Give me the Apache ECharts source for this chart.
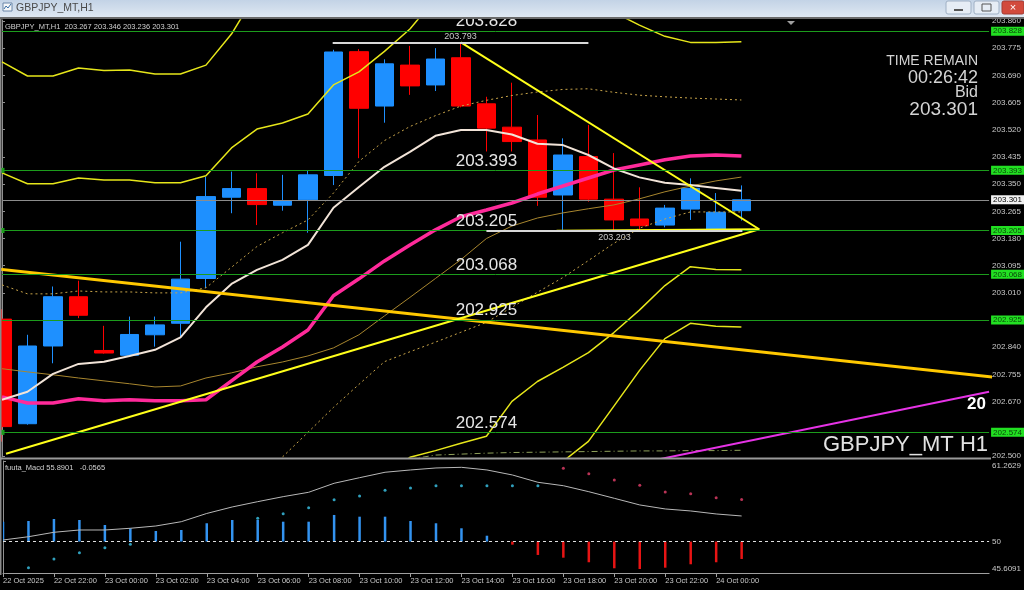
<!DOCTYPE html>
<html><head><meta charset="utf-8">
<script src="https://cdn.jsdelivr.net/npm/echarts@6/dist/echarts.min.js"></script>
<style>html,body{margin:0;padding:0;background:#000;overflow:hidden}#c{width:1024px;height:590px}</style>
</head><body><div id="c"></div>
<script>
// ---------------- data ----------------
const symbolName = "GBPJPY_MT,H1";
const times = ["22 Oct 20:00","22 Oct 21:00","22 Oct 22:00","22 Oct 23:00","23 Oct 00:00","23 Oct 01:00","23 Oct 02:00","23 Oct 03:00","23 Oct 04:00","23 Oct 05:00","23 Oct 06:00","23 Oct 07:00","23 Oct 08:00","23 Oct 09:00","23 Oct 10:00","23 Oct 11:00","23 Oct 12:00","23 Oct 13:00","23 Oct 14:00","23 Oct 15:00","23 Oct 16:00","23 Oct 17:00","23 Oct 18:00","23 Oct 19:00","23 Oct 20:00","23 Oct 21:00","23 Oct 22:00","23 Oct 23:00","24 Oct 00:00","24 Oct 01:00"];
const open  = [202.928,202.601,202.844,202.998,202.830,202.815,202.879,202.915,203.055,203.309,203.336,203.284,203.301,203.377,203.764,203.594,203.722,203.660,203.745,203.601,203.528,203.488,203.316,203.436,203.303,203.241,203.222,203.272,203.209,203.267];
const close = [202.592,202.844,202.998,202.940,202.822,202.880,202.910,203.053,203.311,203.336,203.286,203.298,203.379,203.763,203.587,203.726,203.657,203.741,203.594,203.525,203.483,203.309,203.441,203.303,203.238,203.220,203.275,203.337,203.262,203.301];
const low   = [202.545,202.598,202.790,202.931,202.820,202.812,202.842,202.873,203.025,203.259,203.222,203.267,203.198,203.347,203.431,203.542,203.629,203.641,203.590,203.452,203.452,203.282,203.207,203.295,203.203,203.205,203.215,203.238,203.205,203.236];
const high  = [202.959,202.879,203.030,203.048,202.907,202.936,202.936,203.170,203.373,203.389,203.384,203.379,203.394,203.770,203.772,203.740,203.782,203.775,203.793,203.623,203.667,203.566,203.493,203.535,203.447,203.340,203.285,203.368,203.322,203.346];

const bbUpper3 = [203.732,203.688,203.688,203.713,203.705,203.707,203.694,203.694,203.722,203.819,203.950,null,null,null,null,null,null,null,null,null,null,null,null,null,null,null,null,null,null,null];
const bbUpper2 = [203.385,203.351,203.351,203.369,203.363,203.363,203.354,203.354,203.376,203.463,203.522,203.541,203.569,203.660,203.701,203.765,203.835,203.930,null,null,null,null,null,null,203.887,203.847,203.812,203.793,203.793,203.795];
const bbUpper1 = [203.035,203.007,203.007,203.016,203.013,203.013,203.010,203.010,203.026,203.090,203.155,203.198,203.238,203.322,203.421,203.486,203.530,203.564,203.594,203.612,203.627,203.638,203.646,203.648,203.637,203.628,203.623,203.619,203.616,203.613];
const bbMiddle = [202.685,202.666,202.666,202.679,202.673,202.676,202.673,202.673,202.676,202.735,202.794,202.841,202.894,203.001,203.054,203.110,203.160,203.207,203.248,203.269,203.291,203.319,203.344,203.369,203.394,203.410,203.426,203.438,203.441,203.438];
const bbLower1 = [null,null,null,null,null,null,null,null,null,null,202.448,202.497,202.574,202.652,202.724,202.795,202.826,202.856,202.887,202.918,202.965,203.012,203.058,203.111,203.165,203.212,203.241,203.263,203.263,203.263];
const bbLower2 = [null,null,null,null,null,null,null,null,null,null,null,null,null,null,null,202.440,202.496,202.517,202.540,202.562,202.671,202.733,202.777,202.823,202.886,202.956,203.033,203.092,203.083,203.082];
const bbLower3 = [null,null,null,null,null,null,null,null,null,null,null,null,null,null,null,null,null,null,null,null,null,202.420,202.483,202.546,202.656,202.767,202.867,202.915,202.906,202.903];
const fastMA   = [202.676,202.701,202.757,202.788,202.795,202.813,202.832,202.871,202.965,203.038,203.082,203.113,203.160,203.276,203.341,203.404,203.451,203.501,203.519,203.519,203.505,203.476,203.472,203.441,203.399,203.371,203.354,203.347,203.338,203.329];
const slowMA   = [202.773,202.763,202.754,202.744,202.735,202.726,202.716,202.719,202.744,202.760,202.779,202.794,202.813,202.838,202.879,202.938,202.996,203.055,203.114,203.180,203.219,203.244,203.260,203.273,203.285,203.304,203.326,203.344,203.360,203.372];
const longMA   = [null,null,null,null,null,null,null,null,null,null,null,null,null,null,null,null,202.490,202.503,202.506,202.509,202.511,202.512,202.513,202.514,202.515,202.516,202.516,202.517,202.517,202.518];

const levels = [203.828,203.393,203.205,203.068,202.925,202.574];
const anchoredLevels = [203.393,203.205,202.574];
const bid = 203.301;
const priceTicks = [203.860,203.775,203.690,203.605,203.520,203.435,203.350,203.265,203.180,203.095,203.010,202.925,202.840,202.755,202.670,202.500];

const goldTrend     = [[-1,203.092],[40,202.737]];
const triangleRise  = [[0.157,202.507],[29.70,203.209]];
const triangleFall  = [[18,203.793],[29.70,203.209]];
const triangleBase  = [[21.75,203.204],[29.70,203.209]];
const channelUpper  = [[0,203.453],[27,203.896]];
const channelLower  = [[0,202.765],[38.715,203.389]];
const channelBottom = [[25.78,202.490],[38.715,202.701]];
const highMark = {value:203.793, from:12.97, to:23.0};
const lowMark  = {value:203.203, from:19.0, to:29.04};

const macdHist   = [52.78,52.88,53.16,53.02,52.32,51.86,51.48,51.62,52.56,53.02,53.02,52.78,52.78,53.72,53.48,53.48,52.88,52.56,51.86,50.82,49.57,48.13,47.75,47.11,46.27,46.17,46.35,46.83,47.11,47.57];
const macdSignal = [50.22,50.68,51.30,51.62,51.62,51.86,52.18,52.78,53.93,54.84,55.58,56.28,56.89,58.15,58.93,59.69,60.01,60.29,60.38,60.01,59.31,58.29,57.81,56.97,56.05,55.12,54.56,54.28,53.86,53.58];
const macdDotsUp   = [null,46.35,47.57,48.45,49.15,49.62,null,null,null,null,53.26,53.90,54.74,55.86,56.37,57.17,57.49,57.81,57.81,57.81,57.81,57.81,null,null,null,null,null,null,null,null];
const macdDotsDown = [null,null,null,null,null,null,null,null,null,null,null,null,null,null,null,null,null,null,null,null,null,null,60.24,59.49,58.61,57.87,56.93,56.69,56.14,55.89];
const macdTicks = [61.2629,50,45.6091];
const macdTickText = ["61.2629","50","45.6091"];
const macdName = "fuuta_Macd 55.8901   -0.0565";

const timeTickIdx = [0,2,4,6,8,10,12,14,16,18,20,22,24,26,28];
const timeTickLabels = ["22 Oct 2025","22 Oct 22:00","23 Oct 00:00","23 Oct 02:00","23 Oct 04:00","23 Oct 06:00","23 Oct 08:00","23 Oct 10:00","23 Oct 12:00","23 Oct 14:00","23 Oct 16:00","23 Oct 18:00","23 Oct 20:00","23 Oct 22:00","24 Oct 00:00"];

// ---------------- chart ----------------
const FONT = '"Liberation Sans", Arial, sans-serif';
const pairs = arr => arr.map((v, i) => [i, v]);
const XMAX = 38.715;
const last = times.length - 1;

const lineSeries = (data, color, width, type, extra) => Object.assign({
  type: 'line', xAxisIndex: 0, yAxisIndex: 0, data: data, showSymbol: false, symbol: 'none',
  silent: true, animation: false, clip: true,
  lineStyle: {color: color, width: width, type: type || 'solid'}
}, extra || {});

const chart = echarts.init(document.getElementById('c'), null, {renderer: 'canvas', width: 1024, height: 590});

const option = {
  backgroundColor: '#000',
  animation: false,
  grid: [
    {left: 2, right: 34, top: 20, height: 437},
    {left: 2, right: 34, top: 461, height: 112}
  ],
  xAxis: [
    {type: 'value', gridIndex: 0, min: 0, max: XMAX, show: false},
    {type: 'value', gridIndex: 1, min: 0, max: XMAX,
     axisLine: {show: true, lineStyle: {color: '#a0a0a0', width: 1}},
     axisTick: {show: true, customValues: timeTickIdx, length: 4, lineStyle: {color: '#a0a0a0'}},
     axisLabel: {customValues: timeTickIdx, align: 'left', margin: 4, color: '#c8c8c8', fontSize: 7.5, fontFamily: FONT,
       formatter: v => timeTickLabels[timeTickIdx.indexOf(Math.round(v))] || ''},
     splitLine: {show: false}}
  ],
  yAxis: [
    {type: 'value', gridIndex: 0, min: 202.497, max: 203.863, position: 'right', scale: true,
     axisLine: {show: true, lineStyle: {color: '#909090'}},
     axisTick: {show: true, customValues: priceTicks, length: 3, lineStyle: {color: '#909090'}},
     axisLabel: {customValues: priceTicks, margin: 3, color: '#c8c8c8', fontSize: 8, fontFamily: FONT,
       formatter: v => v.toFixed(3)},
     splitLine: {show: false}},
    {type: 'value', gridIndex: 1, min: 45.6091, max: 61.2629, position: 'right', scale: true,
     axisLine: {show: true, lineStyle: {color: '#909090'}},
     axisTick: {show: true, customValues: macdTicks, length: 3, lineStyle: {color: '#909090'}},
     axisLabel: {customValues: macdTicks, margin: 3, color: '#c8c8c8', fontSize: 8, fontFamily: FONT,
       formatter: v => {
         let k = 0, d = 1e9;
         macdTicks.forEach((t, i) => { if (Math.abs(t - v) < d) { d = Math.abs(t - v); k = i; } });
         if (k === 0) return '{t|' + macdTickText[k] + '}';
         if (k === macdTickText.length - 1) return '{b|' + macdTickText[k] + '}';
         return macdTickText[k];
       },
       rich: {t: {padding: [10, 0, 0, 0], fontSize: 8, color: '#c8c8c8', fontFamily: FONT},
              b: {padding: [0, 0, 8, 0], fontSize: 8, color: '#c8c8c8', fontFamily: FONT}}},
     splitLine: {show: false}}
  ],
  series: [
    {type: 'candlestick', xAxisIndex: 0, yAxisIndex: 0, barWidth: 19, silent: true, clip: true,
     data: times.map((t, i) => [i, open[i], close[i], low[i], high[i]]),
     encode: {x: 0, y: [1, 2, 3, 4]},
     itemStyle: {color: '#1e90ff', color0: '#ff0000', borderColor: '#1e90ff', borderColor0: '#ff0000', borderWidth: 1}},

    // Bollinger-style envelope and moving averages
    lineSeries(pairs(bbUpper3), '#e6e61a', 1.5),
    lineSeries(pairs(bbUpper2), '#e6e61a', 1.5),
    lineSeries(pairs(bbUpper1), '#c9a54a', 1, [2, 3]),
    lineSeries(pairs(bbLower1), '#c9a54a', 1, [2, 3]),
    lineSeries(pairs(bbLower2), '#e6e61a', 1.5),
    lineSeries(pairs(bbLower3), '#e6e61a', 1.5),
    lineSeries(pairs(longMA), '#8fa05a', 1, [6, 3, 1, 3]),
    lineSeries(pairs(slowMA), '#a8862e', 1),
    lineSeries(pairs(channelLower), '#c020c0', 1),
    lineSeries(pairs(channelUpper), '#c020c0', 1),
    lineSeries(pairs(bbMiddle), '#ff2a9a', 3.5),
    lineSeries(pairs(fastMA), '#f2e4d8', 2),

    // trend lines
    lineSeries(goldTrend, '#ffc800', 3),
    lineSeries(channelBottom, '#e633e6', 2),
    lineSeries(triangleRise, '#ffff1a', 2),
    lineSeries(triangleFall, '#ffff1a', 2),

    // horizontal levels (green) + right axis boxes
    {type: 'line', xAxisIndex: 0, yAxisIndex: 0, data: [], silent: true,
     markLine: {symbol: 'none', silent: true, animation: false, precision: 4,
       lineStyle: {color: '#1c9c1c', width: 1, type: 'solid'},
       label: {show: true, position: 'end', distance: 2,
         backgroundColor: '#22e022', color: '#0a3f0a', fontSize: 8, fontFamily: FONT, padding: [1, 2, 0, 2]},
       data: levels.map(v => anchoredLevels.indexOf(v) >= 0
         ? {yAxis: v, symbol: ['rect', 'rect'], symbolSize: 5, label: {formatter: v.toFixed(3)}}
         : {yAxis: v, label: {formatter: v.toFixed(3)}})}},
    // big level captions
    {type: 'line', xAxisIndex: 0, yAxisIndex: 0, data: [], silent: true,
     markLine: {symbol: 'none', silent: true, animation: false, precision: 4,
       lineStyle: {color: 'rgba(0,0,0,0)', width: 1},
       label: {show: true, position: 'insideMiddleTop', distance: 1,
         color: '#e6e6e6', fontSize: 17, fontFamily: FONT},
       data: levels.map(v => [{coord: [0, v], label: {formatter: v.toFixed(3)}}, {coord: [38.0, v]}])}},
    // bid line
    {type: 'line', xAxisIndex: 0, yAxisIndex: 0, data: [], silent: true,
     markLine: {symbol: 'none', silent: true, animation: false, precision: 4,
       lineStyle: {color: '#8c8c8c', width: 1, type: 'solid'},
       label: {show: true, position: 'end', distance: 2, formatter: bid.toFixed(3),
         backgroundColor: '#f2f2f2', color: '#000', fontSize: 8, fontFamily: FONT, padding: [1, 2, 0, 2]},
       data: [{yAxis: bid}]}},
    // high / low marks
    {type: 'line', xAxisIndex: 0, yAxisIndex: 0, data: [], silent: true,
     markLine: {symbol: 'none', silent: true, animation: false, precision: 4,
       lineStyle: {color: '#d8d8d8', width: 2, type: 'solid'},
       label: {show: true, distance: 1, color: '#c8c8c8', fontSize: 9, fontFamily: FONT},
       data: [
         [{coord: [highMark.from, highMark.value], label: {position: 'insideMiddleTop', formatter: highMark.value.toFixed(3)}}, {coord: [highMark.to, highMark.value]}],
         [{coord: [lowMark.from, lowMark.value], label: {position: 'insideMiddleBottom', distance: 2, formatter: lowMark.value.toFixed(3)}}, {coord: [lowMark.to, lowMark.value]}]
       ]}},
    lineSeries(triangleBase, '#ffff1a', 2),

    // MACD panel
    {type: 'custom', xAxisIndex: 1, yAxisIndex: 1, silent: true, clip: true,
     data: pairs(macdHist),
     renderItem: (params, api) => {
       const x = api.value(0), v = api.value(1);
       const p1 = api.coord([x, 50]), p2 = api.coord([x, v]);
       return {type: 'line', shape: {x1: p1[0], y1: p1[1], x2: p2[0], y2: p2[1]},
         style: {stroke: v >= 50 ? '#3393f0' : '#e81414', lineWidth: 2.5}};
     }},
    {type: 'line', xAxisIndex: 1, yAxisIndex: 1, data: pairs(macdSignal), showSymbol: false, symbol: 'none', silent: true,
     lineStyle: {color: '#b8b8b8', width: 1},
     markLine: {symbol: 'none', silent: true, animation: false, label: {show: false},
       lineStyle: {color: '#e0e0e0', width: 1, type: [3, 3]}, data: [{yAxis: 50}]}},
    {type: 'scatter', xAxisIndex: 1, yAxisIndex: 1, data: pairs(macdDotsUp), symbolSize: 3, silent: true,
     itemStyle: {color: '#3cc8ec'}},
    {type: 'scatter', xAxisIndex: 1, yAxisIndex: 1, data: pairs(macdDotsDown), symbolSize: 3, silent: true,
     itemStyle: {color: '#e8406c'}}
  ],
  graphic: [
    // frame lines
    {type: 'rect', z: 100, shape: {x: 0, y: 19, width: 1.5, height: 556}, style: {fill: '#8a8a8a'}},
    {type: 'rect', z: 100, shape: {x: 0, y: 457.5, width: 991, height: 2}, style: {fill: '#9a9a9a'}},
    // title bar (window chrome)
    {type: 'rect', z: 100, shape: {x: 0, y: 0, width: 1024, height: 17},
     style: {fill: new echarts.graphic.LinearGradient(0, 0, 0, 1, [{offset: 0, color: '#c3d3e6'}, {offset: 1, color: '#dfe8f2'}])}},
    {type: 'rect', z: 100, shape: {x: 0, y: 17, width: 1024, height: 2}, style: {fill: '#6a6a6a'}},
    {type: 'rect', z: 101, shape: {x: 3, y: 3, width: 9, height: 8}, style: {fill: '#f4f6f8', stroke: '#6a86a8', lineWidth: 1}},
    {type: 'polyline', z: 102, shape: {points: [[4, 9], [6, 6], [8, 8], [11, 4]]}, style: {stroke: '#3a6ea5', lineWidth: 1, fill: null}},
    {type: 'text', z: 101, x: 16, y: 8.5, style: {text: symbolName, fill: '#4a4a4a', fontSize: 10.5, fontFamily: FONT, verticalAlign: 'middle'}},
    {type: 'rect', z: 101, shape: {x: 946, y: 1, width: 25, height: 13, r: 2}, style: {fill: '#e6edf5', stroke: '#9fb0c4', lineWidth: 1}},
    {type: 'rect', z: 102, shape: {x: 954, y: 9, width: 9, height: 2}, style: {fill: '#555'}},
    {type: 'rect', z: 101, shape: {x: 974, y: 1, width: 25, height: 13, r: 2}, style: {fill: '#e6edf5', stroke: '#9fb0c4', lineWidth: 1}},
    {type: 'rect', z: 102, shape: {x: 982, y: 4, width: 9, height: 7}, style: {fill: null, stroke: '#555', lineWidth: 1}},
    {type: 'rect', z: 101, shape: {x: 1002, y: 1, width: 22, height: 13, r: 2}, style: {fill: '#d24a3c', stroke: '#a33a30', lineWidth: 1}},
    {type: 'text', z: 102, x: 1013, y: 7.5, style: {text: '×', fill: '#fff', fontSize: 11, fontFamily: FONT, align: 'center', verticalAlign: 'middle'}},
    // chart shift marker
    {type: 'polygon', z: 100, shape: {points: [[787, 21], [795, 21], [791, 25]]}, style: {fill: '#a0a0a0'}},
    // header texts
    {type: 'text', z: 100, x: 5, y: 27, style: {
      text: symbolName + '  ' + [open[last], high[last], low[last], close[last]].map(v => v.toFixed(3)).join(' '),
      fill: '#d0d0d0', fontSize: 7.5, fontFamily: FONT, verticalAlign: 'middle'}},
    {type: 'text', z: 100, x: 5, y: 468, style: {text: macdName, fill: '#d0d0d0', fontSize: 7.5, fontFamily: FONT, verticalAlign: 'middle'}},
    // time remain block
    {type: 'text', z: 100, x: 978, y: 61, style: {text: 'TIME REMAIN', fill: '#d4d4d4', fontSize: 14, fontFamily: FONT, align: 'right', verticalAlign: 'middle'}},
    {type: 'text', z: 100, x: 978, y: 78, style: {text: '00:26:42', fill: '#d4d4d4', fontSize: 18, fontFamily: FONT, align: 'right', verticalAlign: 'middle'}},
    {type: 'text', z: 100, x: 978, y: 93, style: {text: 'Bid', fill: '#d4d4d4', fontSize: 16, fontFamily: FONT, align: 'right', verticalAlign: 'middle'}},
    {type: 'text', z: 100, x: 978, y: 110, style: {text: bid.toFixed(3), fill: '#d4d4d4', fontSize: 19, fontFamily: FONT, align: 'right', verticalAlign: 'middle'}},
    // symbol watermark & cut label
    {type: 'text', z: 100, x: 988, y: 445, style: {text: 'GBPJPY_MT H1', fill: '#e2e2e2', fontSize: 22, fontFamily: FONT, align: 'right', verticalAlign: 'middle'}},
    {type: 'text', z: 100, x: 967, y: 404, style: {text: '20', fill: '#ffffff', fontSize: 17, fontWeight: 'bold', fontFamily: FONT, verticalAlign: 'middle'}}
  ]
};
chart.setOption(option);
</script>
</body></html>
